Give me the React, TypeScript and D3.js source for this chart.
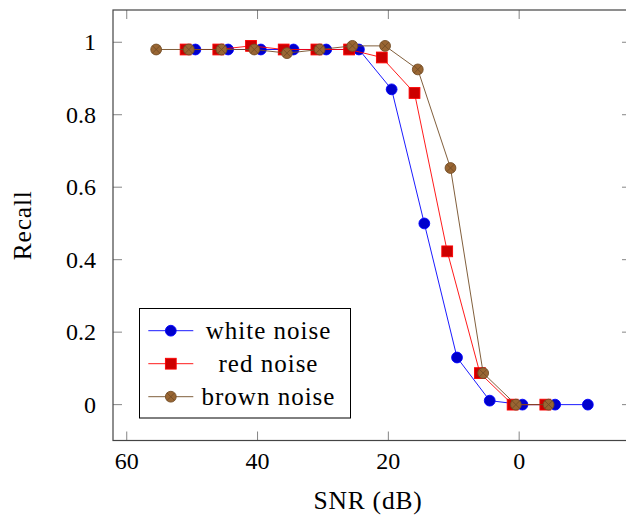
import React from "react";
import * as d3 from "d3";

// SNR (dB) / recall per noise type
const whiteSnr = [49.5, 44.5, 39.5, 34.5, 29.5, 24.5, 19.5, 14.5, 9.5, 4.5, -0.5, -5.5, -10.5];
const whiteRecall = [0.98, 0.98, 0.98, 0.98, 0.98, 0.98, 0.87, 0.5, 0.13, 0.011, 0, 0, 0];
const redSnr = [51, 46, 41, 36, 31, 26, 21, 16, 11, 6, 1, -4];
const redRecall = [0.98, 0.98, 0.99, 0.98, 0.98, 0.98, 0.958, 0.86, 0.423, 0.087, 0, 0];
const brownSnr = [55.5, 50.5, 45.5, 40.5, 35.5, 30.5, 25.5, 20.5, 15.5, 10.5, 5.5, 0.5, -4.5];
const brownRecall = [0.98, 0.98, 0.98, 0.98, 0.97, 0.98, 0.99, 0.99, 0.925, 0.653, 0.087, 0, 0];

const xTicks = [60, 40, 20, 0];
const yTicks = [0, 0.2, 0.4, 0.6, 0.8, 1];
const labels = ["white noise", "red noise", "brown noise"];

const W = 626;
const H = 523;
const left = 113, right = 631, top = 10, bottom = 440.5;
const FONT = '"Liberation Serif", "DejaVu Serif", serif';

const x = d3.scaleLinear().domain([62.1, -17.1]).range([left, right]);
const y = d3.scaleLinear().domain([-0.099, 1.089]).range([bottom, top]);

const series = [
  { name: labels[0], xs: whiteSnr, ys: whiteRecall, line: "#0000ff", fill: "#0000cc", mark: "circle" },
  { name: labels[1], xs: redSnr, ys: redRecall, line: "#ff0000", fill: "#cc0000", mark: "square" },
  { name: labels[2], xs: brownSnr, ys: brownRecall, line: "#734d26", fill: "#996633", mark: "otimes" },
];

const Marker = ({ kind, cx, cy, line, fill }: any) => {
  const r = 5.4;
  if (kind === "square") {
    return <rect x={cx - r} y={cy - r} width={2 * r} height={2 * r} fill={fill} stroke={line} strokeWidth={0.9} />;
  }
  if (kind === "otimes") {
    const d = r * 0.707;
    return (
      <g>
        <circle cx={cx} cy={cy} r={r} fill={fill} stroke={line} strokeWidth={0.9} />
        <path d={`M${cx - d},${cy - d}L${cx + d},${cy + d}M${cx - d},${cy + d}L${cx + d},${cy - d}`} stroke={line} strokeWidth={0.9} />
      </g>
    );
  }
  return <circle cx={cx} cy={cy} r={r} fill={fill} stroke={line} strokeWidth={0.9} />;
};

const App = () => {
  const lineGen = d3.line<[number, number]>().x(d => x(d[0])).y(d => y(d[1]));
  const tickLen = 9;
  const txt = { fontFamily: FONT };

  return (
    <svg width={W} height={H} style={{ position: "absolute", left: 0, top: 0, background: "#fff", fontFamily: FONT }}>
      <defs>
        <clipPath id="plot">
          <rect x={left} y={top} width={right - left} height={bottom - top} />
        </clipPath>
      </defs>

      {/* ticks, mirrored on all four sides */}
      <g stroke="#666" strokeWidth={0.8}>
        {xTicks.map(t => (
          <g key={"xt" + t}>
            <line x1={x(t)} x2={x(t)} y1={bottom} y2={bottom - tickLen} />
            <line x1={x(t)} x2={x(t)} y1={top} y2={top + tickLen} />
          </g>
        ))}
        {yTicks.map(t => (
          <g key={"yt" + t}>
            <line x1={left} x2={left + tickLen} y1={y(t)} y2={y(t)} />
            <line x1={right} x2={right - tickLen} y1={y(t)} y2={y(t)} />
          </g>
        ))}
      </g>

      {/* data */}
      <g clipPath="url(#plot)">
        {series.map(s => (
          <g key={s.name}>
            <path d={lineGen(s.xs.map((v, i) => [v, s.ys[i]]) as [number, number][]) || ""} fill="none" stroke={s.line} strokeWidth={0.9} />
            {s.xs.map((v, i) => (
              <Marker key={i} kind={s.mark} cx={x(v)} cy={y(s.ys[i])} line={s.line} fill={s.fill} />
            ))}
          </g>
        ))}
      </g>

      {/* frame */}
      <rect x={left} y={top} width={right - left} height={bottom - top} fill="none" stroke="#444" strokeWidth={1.2} />

      {/* tick labels */}
      <g fontSize={24} fill="#000">
        {xTicks.map(t => (
          <text key={"xl" + t} style={txt} x={x(t)} y={469} textAnchor="middle">{t}</text>
        ))}
        {yTicks.map(t => (
          <text key={"yl" + t} style={txt} x={96} y={y(t) + 8} textAnchor="end">{t}</text>
        ))}
      </g>

      {/* axis labels */}
      <text style={txt} x={(left + right) / 2 - 4} y={509} textAnchor="middle" fontSize={25.5} letterSpacing={0.8}>SNR (dB)</text>
      <text style={txt} transform={`translate(31, ${(top + bottom) / 2}) rotate(-90)`} textAnchor="middle" fontSize={25.5} letterSpacing={0.8}>Recall</text>

      {/* legend */}
      <g>
        <rect x={139.5} y={308.5} width={211} height={109.5} fill="#fff" stroke="#000" strokeWidth={1} />
        {series.map((s, i) => {
          const ly = 330.7 + i * 33;
          return (
            <g key={"lg" + s.name}>
              <line x1={148.3} x2={193.3} y1={ly} y2={ly} stroke={s.line} strokeWidth={0.9} />
              <Marker kind={s.mark} cx={170.8} cy={ly} line={s.line} fill={s.fill} />
              <text style={txt} x={268.5} y={ly + 8} textAnchor="middle" fontSize={25} letterSpacing={1}>{s.name}</text>
            </g>
          );
        })}
      </g>
    </svg>
  );
};

export default App;
